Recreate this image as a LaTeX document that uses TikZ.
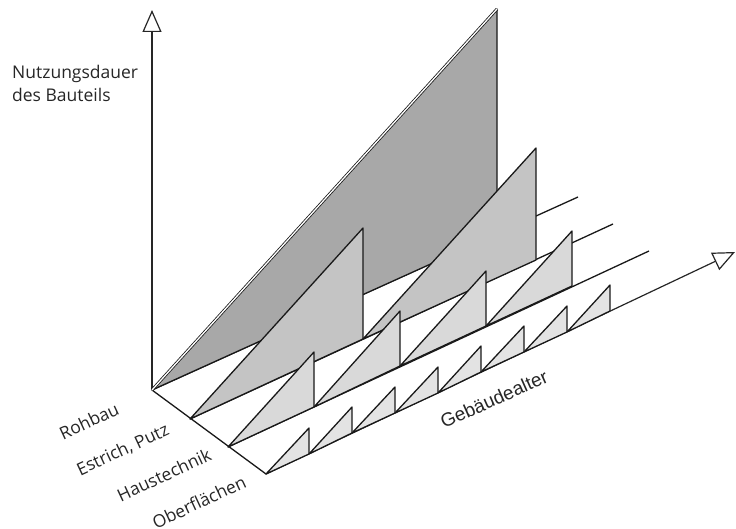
\documentclass[tikz,border=0pt]{standalone}
\usepackage{fontspec}
\setmainfont{Open Sans}
\newfontfamily\alterfont{Liberation Sans}
\usepackage{xcolor}
\usetikzlibrary{arrows.meta}
\definecolor{rohbaugray}{gray}{0.66}
\definecolor{estrichgray}{gray}{0.77}
\definecolor{hausgray}{gray}{0.85}
\definecolor{obergray}{gray}{0.89}

\begin{document}
\begin{tikzpicture}[x=1pt,y=-1pt]
		
		\tikzset{arrowaxis/.style = {draw=black!85, line width=1.2pt, -{Triangle[open,length=22pt,width=19pt,line width=1.2pt]}}}
		\tikzset{ground/.style = {draw=black!90, line width=1.3pt}}
		\tikzset{panel/.style = {draw=black!90, line width=1.3pt, line join=round}}
		\tikzset{rowtext/.style = {text=black!85, font=\fontsize{17.5}{23}\selectfont, inner sep=0pt}}
		\useasboundingbox (0,0) rectangle (736,529);
		\coordinate (o) at (152,390);
		\coordinate (e) at (190,419);
		\coordinate (h) at (228,447);
		\coordinate (d) at (266,474);
		\coordinate (top) at (152,10);
		\coordinate (right) at (735,252);
		%axes
		\draw[arrowaxis] (o) to (top);
		\draw[ground] (o) to (d);
		%Rohbau
		\draw[ground] (o) to (578,197);
		\filldraw[panel, fill=rohbaugray] (o) -- (497,9) -- (497,234) -- cycle;
		\draw[draw=black!90, line width=0.8pt, double, double distance=1.3pt] (o) -- (497,9);
		%Estrich, Putz
		\draw[ground] (e) to (613,224);
		\filldraw[panel, fill=estrichgray] (e) -- (363,228) -- (363,339) -- cycle;
		\filldraw[panel, fill=estrichgray] (363,339) -- (536,148) -- (536,260) -- cycle;
		%Haustechnik
		\draw[ground] (h) to (649,251);
		\filldraw[panel, fill=hausgray] (h) -- (314,352) -- (314,407) -- cycle;
		\filldraw[panel, fill=hausgray] (314,407) -- (400,311) -- (400,366) -- cycle;
		\filldraw[panel, fill=hausgray] (400,366) -- (486,271) -- (486,326) -- cycle;
		\filldraw[panel, fill=hausgray] (486,326) -- (572,231) -- (572,286) -- cycle;
		%Oberflaechen
		\draw[arrowaxis] (d) to (right);
		\filldraw[panel, fill=obergray] (d) -- (309,428) -- (309,454) -- cycle;
		\filldraw[panel, fill=obergray] (309,454) -- (352,407) -- (352,433) -- cycle;
		\filldraw[panel, fill=obergray] (352,433) -- (395,387) -- (395,413) -- cycle;
		\filldraw[panel, fill=obergray] (395,413) -- (438,367) -- (438,393) -- cycle;
		\filldraw[panel, fill=obergray] (438,393) -- (481,346) -- (481,372) -- cycle;
		\filldraw[panel, fill=obergray] (481,372) -- (524,326) -- (524,352) -- cycle;
		\filldraw[panel, fill=obergray] (524,352) -- (567,306) -- (567,332) -- cycle;
		\filldraw[panel, fill=obergray] (567,332) -- (610,285) -- (610,311) -- cycle;
		%labels
		\node[rowtext, align=left, anchor=north west] (dauer) at (12,65) {Nutzungsdauer\\des Bauteils};
		\node[rowtext, rotate=25] (rohbau) at (89,421) {Rohbau};
		\node[rowtext, rotate=25] (estrich) at (123,450) {Estrich, Putz};
		\node[rowtext, rotate=25] (haus) at (164,475) {Haustechnik};
		\node[rowtext, rotate=25] (ober) at (199,502) {Oberflächen};
		\node[rowtext, rotate=24, font=\alterfont\fontsize{19}{20}\selectfont] (alter) at (494,399) {Gebäudealter};
		\end{tikzpicture}
\end{document}
